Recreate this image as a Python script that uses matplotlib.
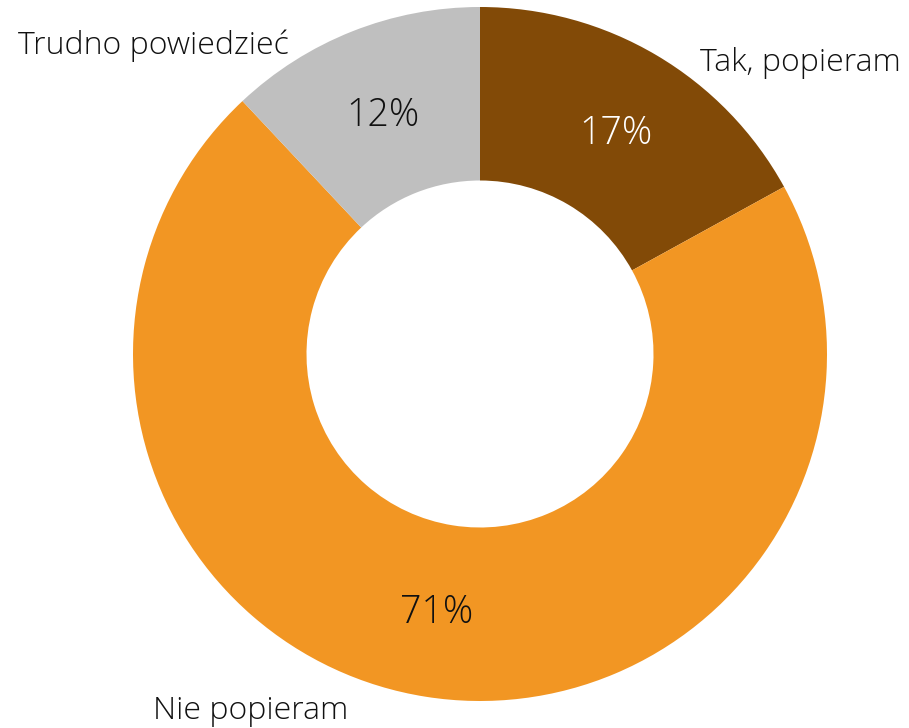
import matplotlib.pyplot as plt

labels = ['Tak, popieram', 'Nie popieram', 'Trudno powiedzieć']
values = [17, 71, 12]
colors = ['#824A07', '#F29623', '#BFBFBF']
pct_colors = ['white', '#111111', '#111111']

plt.rcParams['font.family'] = ['Open Sans', 'DejaVu Sans']

W, H = 909, 728
fig = plt.figure(figsize=(W / 100, H / 100), dpi=100)
ax = fig.add_axes([0, 0, 1, 1])

cx, cy, r = 480, H - 354, 347
ax.pie(values, colors=colors, startangle=90, counterclock=False,
       center=(cx, cy), radius=r, wedgeprops=dict(width=r * 0.5, linewidth=0),
       frame=True)
ax.set_xlim(0, W)
ax.set_ylim(0, H)
ax.set_aspect('equal')
ax.axis('off')

# percent labels (pixel positions from top-left)
pct_pos = [(616, 134), (437, 613), (383, 116)]
for v, (x, y), c in zip(values, pct_pos, pct_colors):
    ax.text(x, H - y, f'{v}%', ha='center', va='center', fontsize=27,
            fontweight='light', color=c)

lab_pos = [(800, 63), (251, 711), (153, 46)]
for lab, (x, y) in zip(labels, lab_pos):
    ax.text(x, H - y, lab, ha='center', va='center', fontsize=23,
            fontweight='light', color='#111111')

fig.savefig('out.png', dpi=100)
